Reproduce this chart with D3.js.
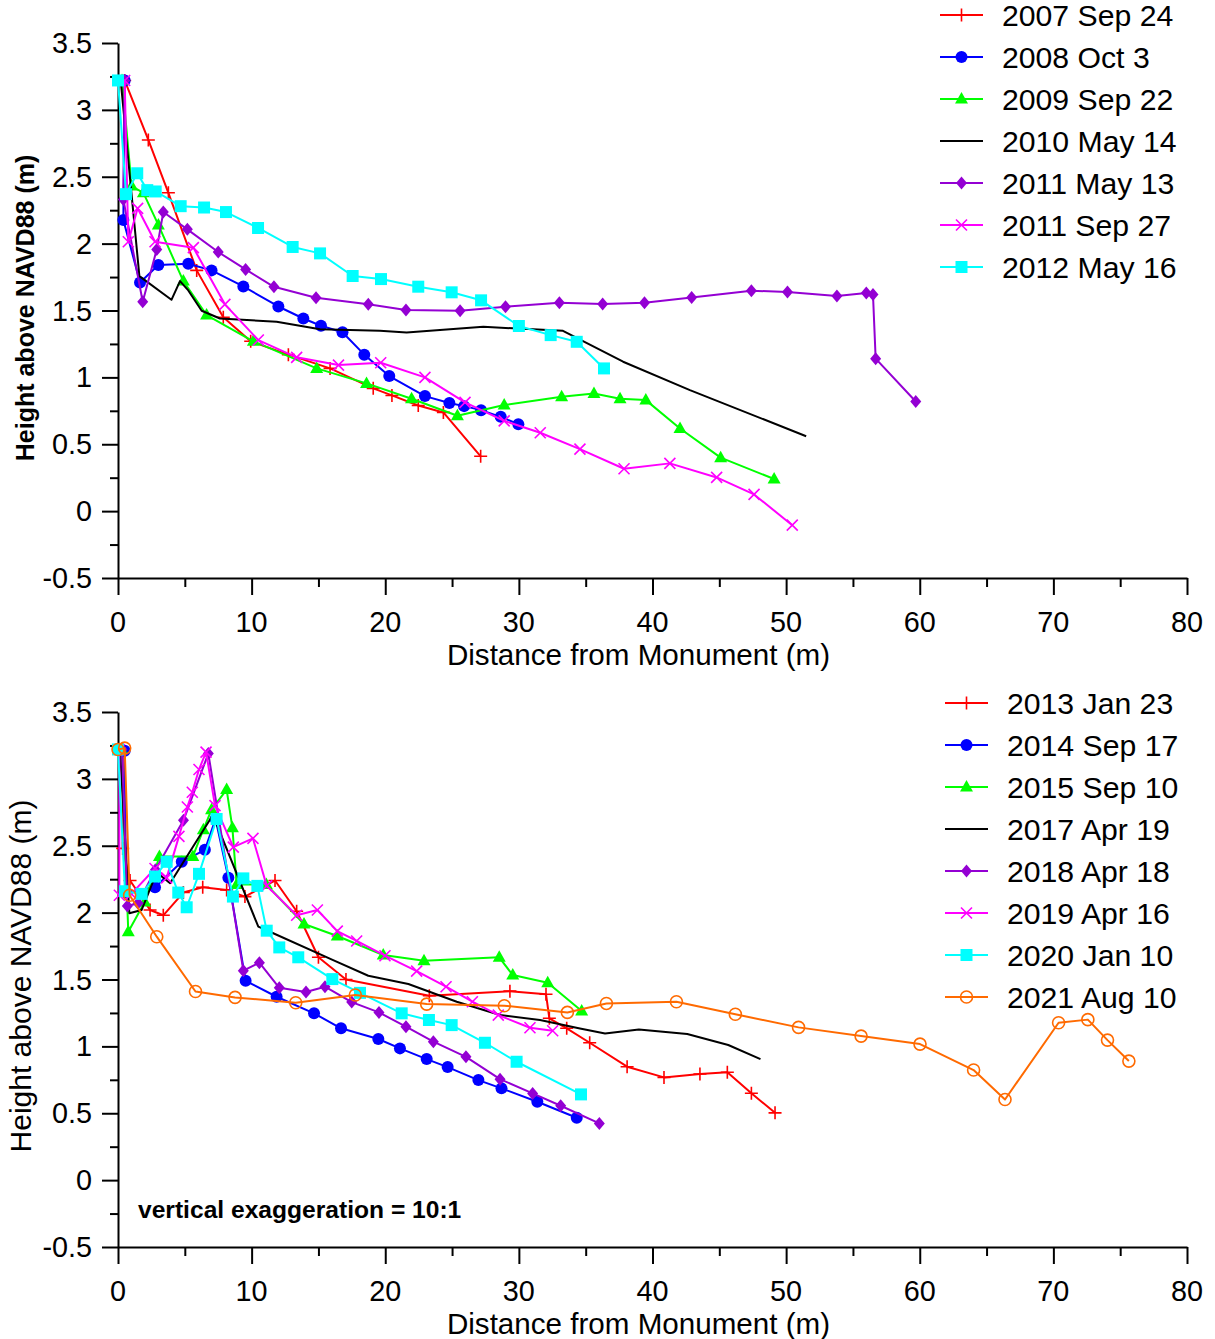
<!DOCTYPE html>
<html><head><meta charset="utf-8">
<script src="https://cdn.jsdelivr.net/npm/d3@7"></script>
<style>body{margin:0;background:#fff}svg{display:block}text{font-family:"Liberation Sans",Arial,sans-serif}</style>
</head><body>
<script>
// ---------- DATA ----------
const xTicks = [0,10,20,30,40,50,60,70,80];
const xMinor = [5,15,25,35,45,55,65,75];
const yTicks = [-0.5,0,0.5,1,1.5,2,2.5,3,3.5];
const yMinor = [-0.25,0.25,0.75,1.25,1.75,2.25,2.75,3.25];

const topNames = ["2007 Sep 24","2008 Oct 3","2009 Sep 22","2010 May 14","2011 May 13","2011 Sep 27","2012 May 16"];
const topColors = ["#ff0000","#0000ff","#00ff00","#000000","#9400d3","#ff00ff","#00ffff"];
const topMarkers = ["plus","circle","triangle","none","diamond","cross","square"];

const d2007Sep24 = [[0.5,3.22],[2.27,2.775],[3.77,2.38],[5.89,1.80],[7.88,1.45],[9.93,1.27],[12.75,1.17],[15.87,1.067],[19.1,0.918],[20.5,0.865],[22.47,0.79],[24.35,0.738],[27.14,0.41]];
const d2008Oct3 = [[0.5,3.22],[0.4,2.176],[1.65,1.71],[3.02,1.84],[5.26,1.85],[7.0,1.80],[9.38,1.68],[12.0,1.53],[13.87,1.44],[15.19,1.386],[16.8,1.337],[18.43,1.17],[20.3,1.01],[22.97,0.86],[24.8,0.808],[25.9,0.785],[27.17,0.755],[28.64,0.705],[29.96,0.65]];
const d2009Sep22 = [[0.3,3.22],[1.02,2.43],[1.9,2.38],[3.02,2.14],[4.89,1.72],[6.63,1.466],[10.13,1.27],[14.87,1.067],[18.6,0.955],[21.97,0.84],[25.4,0.713],[28.9,0.793],[33.2,0.855],[35.62,0.88],[37.57,0.84],[39.5,0.83],[42.06,0.618],[45.1,0.40],[49.1,0.24]];
const d2010May14 = [[0.2,3.22],[1.6,1.757],[4.0,1.58],[4.64,1.72],[5.26,1.65],[6.26,1.498],[7.63,1.44],[11.87,1.416],[15.12,1.359],[19.6,1.348],[21.6,1.336],[27.34,1.378],[33.3,1.348],[37.8,1.117],[42.8,0.905],[51.5,0.56]];
const d2011May13 = [[0.5,3.22],[0.4,2.33],[1.85,1.565],[2.9,1.957],[3.39,2.236],[5.19,2.107],[7.5,1.937],[9.55,1.807],[11.67,1.677],[14.82,1.595],[18.73,1.546],[21.55,1.503],[25.6,1.498],[29.0,1.528],[33.03,1.558],[36.27,1.548],[39.4,1.558],[42.93,1.598],[47.4,1.648],[50.1,1.638],[53.8,1.608],[56.0,1.63],[56.5,1.62],[56.7,1.14],[59.7,0.82]];
const d2011Sep27 = [[0.5,3.22],[0.77,2.014],[1.47,2.264],[2.77,2.014],[5.64,1.97],[8.0,1.546],[10.5,1.279],[13.37,1.15],[16.5,1.092],[19.66,1.109],[22.97,1.0],[25.97,0.813],[28.9,0.675],[31.6,0.586],[34.57,0.464],[37.87,0.317],[41.3,0.357],[44.8,0.252],[47.6,0.125],[50.46,-0.105]];
const d2012May16 = [[0,3.22],[0.6,2.37],[1.44,2.526],[2.19,2.40],[2.82,2.39],[4.69,2.28],[6.44,2.27],[8.08,2.236],[10.48,2.117],[13.07,1.975],[15.12,1.927],[17.56,1.758],[19.68,1.735],[22.47,1.678],[24.97,1.636],[27.17,1.576],[30.0,1.384],[32.38,1.316],[34.33,1.266],[36.37,1.067]];
const topData = [d2007Sep24,d2008Oct3,d2009Sep22,d2010May14,d2011May13,d2011Sep27,d2012May16];

const botNames = ["2013 Jan 23","2014 Sep 17","2015 Sep 10","2017 Apr 19","2018 Apr 18","2019 Apr 16","2020 Jan 10","2021 Aug 10"];
const botColors = ["#ff0000","#0000ff","#00ff00","#000000","#9400d3","#ff00ff","#00ffff","#ff6a00"];
const botMarkers = ["plus","circle","triangle","none","diamond","cross","square","ocircle"];

const d2013Jan23 = [[0.35,3.22],[0.35,2.48],[0.9,2.24],[2.4,2.02],[3.39,1.98],[4.89,2.15],[6.34,2.19],[8.13,2.17],[9.5,2.12],[11.75,2.24],[13.37,2.01],[15.0,1.666],[17.06,1.50],[23.3,1.378],[29.33,1.413],[32.03,1.39],[32.28,1.21],[33.58,1.135],[35.3,1.027],[38.1,0.848],[40.86,0.768],[43.55,0.793],[45.6,0.806],[47.4,0.65],[49.17,0.503]];
const d2014Sep17 = [[0.5,3.21],[0.6,2.15],[2.77,2.19],[4.77,2.38],[6.5,2.47],[7.3,2.7],[8.26,2.26],[9.55,1.49],[11.87,1.371],[14.67,1.247],[16.69,1.135],[19.48,1.055],[21.1,0.985],[23.1,0.905],[24.67,0.845],[26.97,0.748],[28.7,0.686],[31.38,0.586],[34.33,0.466]];
const d2015Sep10 = [[0.25,3.22],[0.77,1.857],[2.0,2.08],[3.1,2.42],[5.6,2.42],[6.39,2.62],[7.0,2.77],[8.13,2.92],[8.56,2.635],[8.88,2.21],[11.1,2.21],[13.92,1.915],[16.41,1.825],[19.85,1.683],[22.9,1.64],[28.53,1.666],[29.54,1.533],[32.16,1.476],[34.7,1.264]];
const d2017Apr19 = [[0.15,3.22],[0.85,1.995],[1.77,2.02],[2.9,2.3],[3.9,2.22],[7.1,2.73],[10.5,1.895],[11.37,1.857],[16.1,1.645],[18.73,1.528],[21.73,1.466],[25.35,1.334],[28.59,1.234],[31.58,1.197],[34.57,1.134],[36.45,1.097],[38.98,1.127],[42.6,1.092],[45.67,1.01],[48.08,0.905]];
const d2018Apr18 = [[0.3,3.22],[0.7,2.05],[1.5,2.07],[2.8,2.32],[4.9,2.69],[6.76,3.19],[9.38,1.566],[10.58,1.626],[12.07,1.438],[14.07,1.406],[15.49,1.446],[17.49,1.331],[19.53,1.254],[21.55,1.147],[23.6,1.035],[26.04,0.922],[28.59,0.755],[31.03,0.648],[33.13,0.556],[36.02,0.424]];
const d2019Apr16 = [[0.1,3.22],[0.1,2.13],[1.0,2.14],[2.77,2.33],[3.64,2.26],[4.56,2.57],[5.19,2.79],[5.56,2.9],[6.06,3.07],[6.59,3.2],[7.26,2.8],[8.63,2.49],[10.1,2.555],[11.13,2.2],[13.37,1.98],[14.92,2.02],[16.41,1.862],[17.86,1.788],[19.98,1.678],[22.35,1.563],[24.55,1.446],[26.52,1.334],[28.46,1.234],[30.83,1.139],[32.53,1.117]];
const d2020Jan10 = [[0,3.22],[0.52,2.16],[1.77,2.14],[2.77,2.27],[3.64,2.38],[4.51,2.15],[5.14,2.04],[6.06,2.29],[7.38,2.70],[8.6,2.12],[9.38,2.256],[10.43,2.2],[11.13,1.865],[12.07,1.74],[13.49,1.666],[16.04,1.503],[18.11,1.40],[21.23,1.247],[23.27,1.197],[24.97,1.159],[27.46,1.027],[29.83,0.885],[34.65,0.641]];
const d2021Aug10 = [[0,3.22],[0.5,3.23],[0.87,2.13],[2.9,1.82],[5.8,1.41],[8.76,1.366],[13.3,1.326],[17.76,1.384],[23.1,1.316],[28.91,1.304],[33.63,1.254],[36.55,1.321],[41.79,1.334],[46.2,1.24],[50.93,1.142],[55.61,1.077],[60.02,1.017],[64.03,0.823],[66.38,0.603],[70.39,1.177],[72.58,1.2],[74.05,1.047],[75.65,0.89]];
const botData = [d2013Jan23,d2014Sep17,d2015Sep10,d2017Apr19,d2018Apr18,d2019Apr16,d2020Jan10,d2021Aug10];

// ---------- DRAW ----------
const W = 1215, H = 1339;
const svg = d3.select("body").append("svg").attr("width", W).attr("height", H);

function markerPath(type){
  switch(type){
    case "plus": return "M-6.5,0H6.5M0,-6.5V6.5";
    case "cross": return "M-5.5,-5.5L5.5,5.5M-5.5,5.5L5.5,-5.5";
    case "triangle": return "M0,-7L6.5,4.5L-6.5,4.5Z";
    case "diamond": return "M0,-6.5L5.5,0L0,6.5L-5.5,0Z";
    case "square": return "M-6,-6H6V6H-6Z";
    default: return null;
  }
}
function drawMarker(g, type, color, cx, cy){
  if(type === "none") return;
  if(type === "circle"){
    g.append("circle").attr("cx",cx).attr("cy",cy).attr("r",6).attr("fill",color);
  } else if(type === "ocircle"){
    g.append("circle").attr("cx",cx).attr("cy",cy).attr("r",6).attr("fill","none").attr("stroke",color).attr("stroke-width",1.6);
  } else if(type === "plus" || type === "cross"){
    g.append("path").attr("d",markerPath(type)).attr("transform",`translate(${cx},${cy})`).attr("stroke",color).attr("stroke-width",1.6).attr("fill","none");
  } else {
    g.append("path").attr("d",markerPath(type)).attr("transform",`translate(${cx},${cy})`).attr("fill",color);
  }
}

function panel(opts){
  const x = d3.scaleLinear().domain([0,80]).range([118,1187]);
  const y = d3.scaleLinear().domain([-0.5,3.5]).range([opts.y0, opts.y1]);
  const g = svg.append("g");

  const yMin = g.append("g").attr("transform","translate(118,0)")
    .call(d3.axisLeft(y).tickValues(yMinor).tickSize(8).tickFormat(""));
  yMin.select(".domain").remove();
  const xMin = g.append("g").attr("transform",`translate(0,${opts.y0})`)
    .call(d3.axisBottom(x).tickValues(xMinor).tickSize(9).tickFormat(""));
  xMin.select(".domain").remove();
  g.append("g").attr("transform","translate(118,0)")
    .call(d3.axisLeft(y).tickValues(yTicks).tickSize(16).tickSizeOuter(0).tickFormat(""));
  g.append("g").attr("transform",`translate(0,${opts.y0})`)
    .call(d3.axisBottom(x).tickValues(xTicks).tickSize(17).tickSizeOuter(0).tickFormat(""));
  g.selectAll(".domain").attr("stroke","#000").attr("stroke-width",2);
  g.selectAll(".tick line").attr("stroke","#000").attr("stroke-width",2);

  g.selectAll(".ylab").data(yTicks).enter().append("text")
    .attr("x",92).attr("y",d=>y(d)+10).attr("text-anchor","end")
    .attr("font-size",28.8).text(d=>String(d));
  g.selectAll(".xlab").data(xTicks).enter().append("text")
    .attr("x",d=>x(d)).attr("y",opts.y0+54).attr("text-anchor","middle")
    .attr("font-size",28.8).text(d=>String(d));

  g.append("text").attr("x",638.5).attr("y",opts.y0+87).attr("text-anchor","middle")
    .attr("font-size",29.6).text("Distance from Monument (m)");
  g.append("text").attr("transform",`translate(${opts.ytX},${opts.ytY}) rotate(-90)`)
    .attr("text-anchor","middle").attr("font-size",opts.ytSize).attr("font-weight",opts.ytWeight)
    .text("Height above NAVD88 (m)");

  const line = d3.line().x(d=>x(d[0])).y(d=>y(d[1]));
  opts.data.forEach((ser,i)=>{
    const sg = g.append("g");
    sg.append("path").datum(ser).attr("d",line).attr("fill","none")
      .attr("stroke",opts.colors[i]).attr("stroke-width",2).attr("stroke-linejoin","round");
    ser.forEach(p=>drawMarker(sg, opts.markers[i], opts.colors[i], x(p[0]), y(p[1])));
  });

  const lg = g.append("g");
  opts.names.forEach((n,i)=>{
    const cy = opts.legY + i*42;
    lg.append("line").attr("x1",opts.legX).attr("x2",opts.legX+43).attr("y1",cy).attr("y2",cy)
      .attr("stroke",opts.colors[i]).attr("stroke-width",2);
    drawMarker(lg, opts.markers[i], opts.colors[i], opts.legX+21.5, cy);
    lg.append("text").attr("x",opts.legX+62).attr("y",cy+10.5).attr("font-size",30.2).text(n);
  });
  return {x,y,g};
}

panel({y0:578, y1:43, data:topData, names:topNames, colors:topColors, markers:topMarkers,
  legX:940, legY:15, ytX:34, ytY:308, ytSize:25, ytWeight:"bold"});
const p2 = panel({y0:1247, y1:712, data:botData, names:botNames, colors:botColors, markers:botMarkers,
  legX:945, legY:703, ytX:31, ytY:976, ytSize:30, ytWeight:"normal"});
p2.g.append("text").attr("x",138).attr("y",1218).attr("font-size",24.6).attr("font-weight","bold")
  .text("vertical exaggeration = 10:1");
</script>
</body></html>
